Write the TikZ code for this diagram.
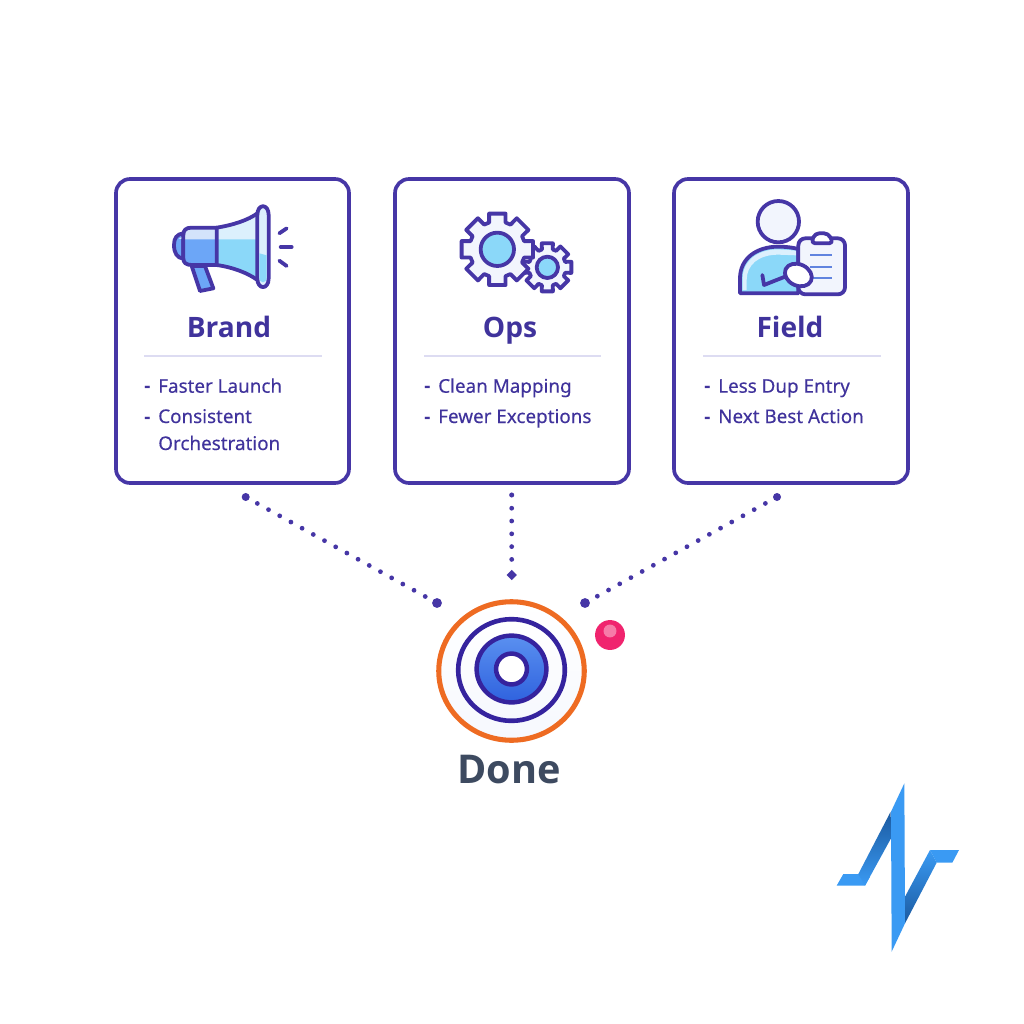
\documentclass[tikz,border=0pt]{standalone}
\usepackage{fontspec}
\setmainfont{Noto Sans}[FakeBold=0.25]
\newfontfamily\headfont{Open Sans}
\usepackage{tikz}
\usetikzlibrary{positioning}
\usetikzlibrary{calc}
\usetikzlibrary{shapes.geometric}
\definecolor{ink}{HTML}{4636A6}
\definecolor{inktext}{HTML}{40339C}
\definecolor{rulecol}{HTML}{DDDCF2}
\definecolor{palecol}{HTML}{F2F5FD}
\definecolor{skycol}{HTML}{8BD8F9}
\definecolor{lightsky}{HTML}{DCF0FD}
\definecolor{midblue}{HTML}{6CA6F7}
\definecolor{lightblue}{HTML}{D3E3FB}
\definecolor{ringorange}{HTML}{EE6B22}
\definecolor{ringblue}{HTML}{35239E}
\definecolor{disktop}{HTML}{5A90F0}
\definecolor{diskbot}{HTML}{2F62DE}
\definecolor{pinkdot}{HTML}{F0246E}
\definecolor{logoblue}{HTML}{3A9AF3}
\definecolor{logodark}{HTML}{1B5AA0}
\definecolor{donecol}{HTML}{3D4A60}
% gear outline: centre x, centre y, outer radius, root radius
\newcommand{\gearoutline}[4]{
  \draw [icon,fill=palecol] (#1,#2) ++(-13:#3)
    \foreach \a in {0,45,...,315} {
      -- ($(#1,#2)+(\a-13:#3)$) -- ($(#1,#2)+(\a+13:#3)$)
      -- ($(#1,#2)+(\a+17:#4)$) -- ($(#1,#2)+(\a+28:#4)$)
    } -- cycle;
}
\newcommand{\itemdash}{{\headfont\bfseries -}\hspace{5.6pt}}
\begin{document}
\begin{tikzpicture}
    [
    x=0.025cm,y=-0.025cm,
    card/.style={draw=ink,line width=2.6pt,rounded corners=10pt,fill=white},
    title/.style={anchor=base,inner sep=0pt,text=inktext,font=\headfont\bfseries\fontsize{20pt}{20pt}\selectfont},
    item/.style={anchor=base west,inner sep=0pt,text=inktext,font=\fontsize{13.4pt}{13.4pt}\selectfont},
    icon/.style={draw=ink,line width=2.7pt,line join=round,line cap=round},
    divider/.style={draw=rulecol,line width=1.1pt},
    trail/.style={draw=ink,line width=3.4pt,line cap=round,dash pattern=on 0pt off 9.1pt},
    dot/.style={circle,fill=ink,inner sep=0pt,minimum size=5.7pt},
    smalldot/.style={circle,fill=ink,inner sep=0pt,minimum size=3.6pt},
    bigdot/.style={circle,fill=ink,inner sep=0pt,minimum size=7pt},
    ring/.style={ellipse,inner sep=0pt}
    ]
    \useasboundingbox (0,0) rectangle (1024,1024);
    \fill [white] (0,0) rectangle (1024,1024);
    % cards
    \draw [card] (116,179) rectangle (349,483);
    \draw [card] (395,179) rectangle (629,483);
    \draw [card] (674,179) rectangle (908,483);
    % titles and lists
    \node (brand) at (229,337) [title] {Brand};
    \node (ops) at (510,337) [title] {Ops};
    \node (field) at (790,337) [title] {Field};
    \draw [divider] (144,356) -- (322,356);
    \draw [divider] (424,356) -- (601,356);
    \draw [divider] (703,356) -- (881,356);
    \node (b1) at (144,392.7) [item] {\itemdash Faster Launch};
    \node (b2) at (144,423) [item] {\itemdash Consistent};
    \node (b3) at (158,450) [item] {Orchestration};
    \node (o1) at (424,392.7) [item] {\itemdash Clean Mapping};
    \node (o2) at (424,423) [item] {\itemdash Fewer Exceptions};
    \node (f1) at (704,392.7) [item] {\itemdash Less Dup Entry};
    \node (f2) at (704,423) [item] {\itemdash Next Best Action};
    % megaphone
    \begin{scope}[shift={(150,190)},x=0.00833cm,y=-0.00833cm]
      \draw [icon,fill=midblue] (100,130) .. controls (80,132) and (72,145) .. (72,165) .. controls (72,190) and (82,204) .. (100,206) -- cycle;
      \fill [lightblue] (100,137) -- (86,147) -- (100,147) -- cycle;
      \draw [icon,fill=midblue] (125,228) -- (150,303) -- (190,295) -- (165,228) -- cycle;
      \fill [skycol] (200,113) .. controls (250,105) and (295,90) .. (322,70) -- (322,270) .. controls (295,250) and (250,232) .. (200,225) -- cycle;
      \fill [lightsky] (200,113) .. controls (250,105) and (295,90) .. (322,70) -- (322,148) -- (200,148) -- cycle;
      \draw [icon] (200,113) .. controls (250,105) and (295,90) .. (322,70) (322,270) .. controls (295,250) and (250,232) .. (200,225);
      \fill [midblue] (125,113) .. controls (108,113) and (100,120) .. (100,135) -- (100,205) .. controls (100,218) and (108,225) .. (125,225) -- (200,225) -- (200,113) -- cycle;
      \fill [lightblue] (125,113) .. controls (108,113) and (100,120) .. (100,135) -- (100,148) -- (200,148) -- (200,113) -- cycle;
      \draw [icon] (125,113) .. controls (108,113) and (100,120) .. (100,135) -- (100,205) .. controls (100,218) and (108,225) .. (125,225) -- (200,225) -- (200,113) -- cycle;
      \draw [icon,fill=lightsky] (322,75) .. controls (322,40) and (356,40) .. (356,75) -- (356,265) .. controls (356,300) and (322,300) .. (322,265) -- cycle;
      \fill [skycol] (328,190) -- (350,196) -- (350,262) .. controls (350,282) and (328,282) .. (328,262) -- cycle;
      \draw [icon] (388,130) -- (410,115);
      \draw [icon] (392,171) -- (425,171);
      \draw [icon] (388,212) -- (410,228);
    \end{scope}
    % gears
    \begin{scope}[shift={(440,190)},x=0.00833cm,y=-0.00833cm]
      \gearoutline{322}{232}{74}{56}
      \draw [icon,fill=skycol] (322,232) circle (32);
      \gearoutline{172}{178}{110}{84}
      \draw [icon,fill=skycol] (172,178) circle (50);
    \end{scope}
    % person with clipboard
    \begin{scope}[shift={(720,190)},x=0.00833cm,y=-0.00833cm]
      \draw [icon,fill=palecol] (175,95) circle (62);
      \fill [skycol] (60,310) -- (60,265) .. controls (60,205) and (110,170) .. (175,170) .. controls (195,170) and (215,172) .. (235,177) -- (235,310) -- cycle;
      \fill [lightsky] (68,300) -- (68,265) .. controls (68,215) and (110,178) .. (175,178) -- (230,182) -- (230,196) -- (175,194) .. controls (115,194) and (80,225) .. (80,270) -- (80,300) -- cycle;
      \draw [icon] (60,310) -- (60,265) .. controls (60,205) and (110,170) .. (175,170) .. controls (195,170) and (215,172) .. (235,177) -- (235,310) -- cycle;
      \draw [icon,fill=palecol,rounded corners=5pt] (235,145) -- (375,145) -- (375,313) -- (235,313) -- cycle;
      \draw [icon,fill=white,rounded corners=3pt] (273,160) -- (285,130) -- (325,130) -- (340,160) -- cycle;
      \draw [draw=midblue!70!ink,line width=1.6pt] (270,195) -- (337,195);
      \draw [draw=midblue!70!ink,line width=1.6pt] (270,230) -- (337,230);
      \draw [draw=midblue!70!ink,line width=1.6pt] (270,265) -- (337,265);
      \draw [icon] (127,255) -- (132,285) -- (195,260);
      \draw [icon,fill=white,rotate around={-25:(235,255)}] (235,255) ellipse (42 and 32);
    \end{scope}
    % target
    \node (outer) at (511.5,671) [ring,draw=ringorange,line width=3.6pt,top color=white,bottom color=palecol!70!white,minimum width=146*0.7087pt,minimum height=139*0.7087pt] {};
    \node (mid) at (511.5,670) [ring,draw=ringblue,line width=3.3pt,top color=white,bottom color=palecol!70!white,minimum width=107*0.7087pt,minimum height=102*0.7087pt] {};
    \node (disk) at (511.5,669) [ring,draw=ringblue,line width=3.2pt,top color=disktop,bottom color=diskbot,minimum width=70*0.7087pt,minimum height=67*0.7087pt] {};
    \node (hole) at (511.5,669) [ring,draw=ringblue,line width=3.2pt,fill=white,minimum width=31*0.7087pt,minimum height=31*0.7087pt] {};
    \node (alert) at (610,635) [circle,inner sep=0pt,fill=pinkdot,minimum size=30*0.7087pt] {};
    \node (glint) at (610,631) [circle,inner sep=0pt,fill=pinkdot!60!white,minimum size=13*0.7087pt] {};
    \node (done) at (509,783) [anchor=base,inner sep=0pt,text=donecol,font=\headfont\bfseries\fontsize{28.2pt}{28.2pt}\selectfont] {Done};
    % dotted trails
    \node (s1) at (245.7,497) [dot] {};
    \node (s2) at (511.7,495) [smalldot] {};
    \node (s3) at (777,497) [dot] {};
    \node (e1) at (437,603) [bigdot] {};
    \node (e2) at (511.7,575) [diamond,fill=ink,inner sep=0pt,minimum size=7.5pt] {};
    \node (e3) at (585,603) [bigdot] {};
    \draw [trail,shorten <=6.4pt] (s1) -- (e1);
    \draw [trail,shorten <=7.4pt] (s2) -- (e2);
    \draw [trail,shorten <=6.4pt] (s3) -- (e3);
    % logo
    \begin{scope}[shift={(820,770)},x=0.00833cm,y=-0.00833cm]
      \fill [logoblue] (50,347) -- (70,312) -- (115,312) -- (150,320) -- (135,347) -- cycle;
      \shade [top color=logodark,bottom color=logoblue] (212,125) -- (213,205) -- (135,347) -- (115,312) -- cycle;
      \fill [logoblue] (417,240) -- (397,278) -- (350,278) -- (330,240) -- cycle;
      \shade [top color=logoblue,bottom color=logodark] (255,380) -- (330,240) -- (350,278) -- (255,460) -- cycle;
      \fill [logoblue] (253,40) -- (255,460) -- (215,545) -- (213,125) -- cycle;
    \end{scope}
\end{tikzpicture}
\end{document}
